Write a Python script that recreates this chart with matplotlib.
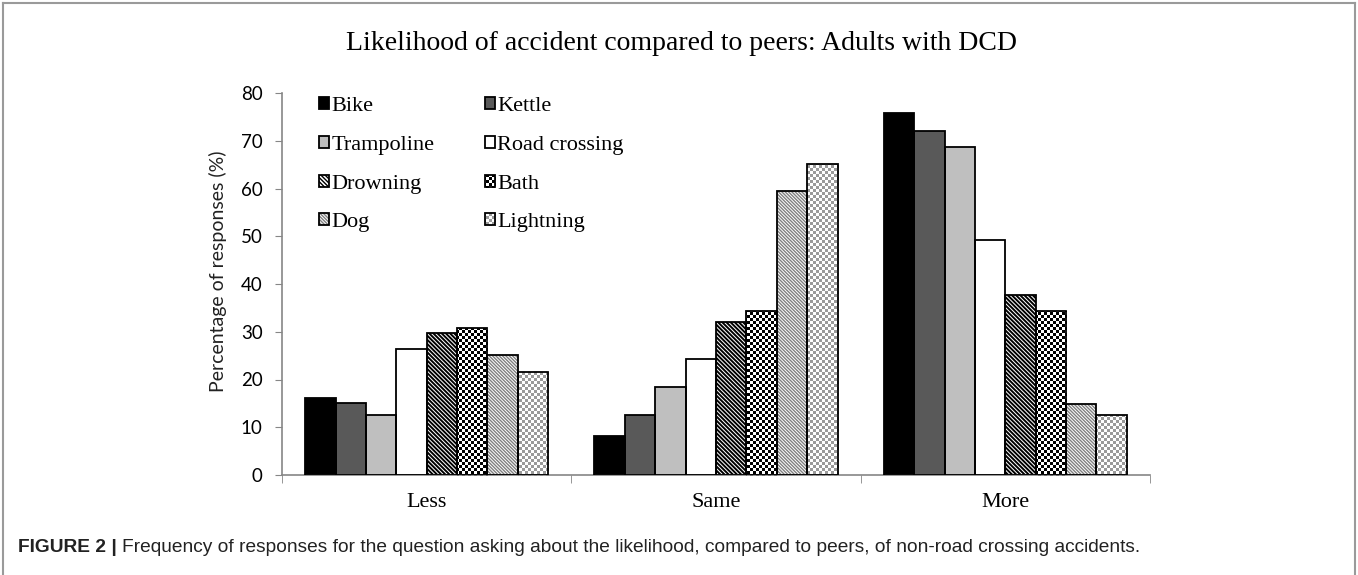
import numpy as np
import matplotlib
matplotlib.use("Agg")
import matplotlib.pyplot as plt
from matplotlib.lines import Line2D

categories = ["Less", "Same", "More"]
series = ["Bike", "Kettle", "Trampoline", "Road crossing", "Drowning", "Bath", "Dog", "Lightning"]
bike = [16.1, 8.2, 75.8]
kettle = [15.0, 12.6, 72.0]
trampoline = [12.5, 18.4, 68.6]
road_crossing = [26.3, 24.2, 49.2]
drowning = [29.7, 32.0, 37.6]
bath = [30.8, 34.3, 34.3]
dog = [25.2, 59.4, 14.8]
lightning = [21.6, 65.2, 12.5]
values = [bike, kettle, trampoline, road_crossing, drowning, bath, dog, lightning]

# fill colour, hatch, hatch colour, hatch width, checker colour (None = no checker)
styles = [
    ("#000000", "", "k", 1.0, None),
    ("#595959", "", "k", 1.0, None),
    ("#bfbfbf", "", "k", 1.0, None),
    ("#ffffff", "", "k", 1.0, None),
    ("#ffffff", "\\" * 8, "#000000", 1.4, None),
    ("none", "", "k", 1.0, "#000000"),
    ("#ffffff", "\\" * 10, "#808080", 1.0, None),
    ("none", "", "k", 1.0, "#9a9a9a"),
]

W, H = 1358, 575
fig = plt.figure(figsize=(W / 100, H / 100), dpi=100)
fig.patch.set_facecolor("white")
ax = fig.add_axes([282 / W, 1 - 475 / H, 868 / W, 382 / H])
ax.patch.set_visible(False)

serif = "Liberation Serif"
sans = "Lato"

x = np.arange(len(categories))
bw = 0.105
bars = []
fills = []
for i, (vals, (fc, hatch, hc, hw, chk)) in enumerate(zip(values, styles)):
    pos = x + (i - 3.5) * bw
    with plt.rc_context({"hatch.color": hc, "hatch.linewidth": hw}):
        f = ax.bar(pos, vals, bw, color=fc, hatch=hatch, edgecolor=None, linewidth=0, zorder=2)
    outl = ax.bar(pos, vals, bw, facecolor="none", edgecolor="black", linewidth=1.3, zorder=3)
    fills.append(f)
    bars.append(outl)

ax.set_xlim(-0.5, 2.5)
ax.set_ylim(0, 80)
ax.set_yticks(np.arange(0, 81, 10))
ax.set_xticks(x)
ax.set_xticklabels(categories, fontfamily=serif, fontsize=16)
ax.set_xticks([-0.5, 0.5, 1.5, 2.5], minor=True)
ax.tick_params(axis="x", which="major", length=0, pad=13)
ax.tick_params(axis="x", which="minor", length=6, color="#868686", direction="out")
ax.tick_params(axis="y", length=5, color="#868686", pad=9, labelsize=13.5)
for lab in ax.get_yticklabels():
    lab.set_fontfamily(sans)
for s in ["top", "right"]:
    ax.spines[s].set_visible(False)
for s in ["left", "bottom"]:
    ax.spines[s].set_color("#868686")
    ax.spines[s].set_linewidth(1.2)

ax.set_ylabel("Percentage of responses (%)", fontfamily=sans, fontsize=14, color="#222222")
ax.yaxis.set_label_coords(-0.0634, 0.534)

fig.text(681 / W, 1 - 43 / H, "Likelihood of accident compared to peers: Adults with DCD",
         fontfamily=serif, fontsize=20, ha="center", va="center")

# legend keys: fill (with hatch colour) + black outline
handles = [(fills[i].patches[0], bars[i].patches[0]) for i in range(len(series))]
order = [0, 2, 4, 6, 1, 3, 5, 7]
leg = fig.legend([handles[i] for i in order], [series[i] for i in order], ncol=2,
                 loc="upper left", bbox_to_anchor=(319 / W, 1 - 97 / H), frameon=False,
                 prop={"family": serif, "size": 16}, handlelength=0.45, handleheight=0.45,
                 handletextpad=0.1, columnspacing=2.27, labelspacing=0.89,
                 borderpad=0, borderaxespad=0)

# checker textures, clipped to the bars and legend keys
yy, xx = np.indices((H, W))
def checker(color, cell):
    rgb = np.array(matplotlib.colors.to_rgb(color))
    mask = ((yy // cell + xx // cell) % 2 == 0)[..., None]
    return np.where(mask, rgb, 1.0)

fig.canvas.draw()
leg_patches = leg.get_patches()
for i, (fc, hatch, hc, hw, chk) in enumerate(styles):
    if chk is None:
        continue
    tex = checker(chk, 3)
    for rect in bars[i]:
        im = fig.figimage(tex, xo=0, yo=0, origin="upper", zorder=-1)
        im.set_clip_path(rect)
    key = leg_patches[order.index(i)]
    im = fig.figimage(tex, xo=0, yo=0, origin="upper", zorder=-1)
    im.set_clip_path(key)

# figure frame and caption
for xs, ys in [([3, 3], [0, 572]), ([3, 1355], [572, 572]), ([1355, 1355], [572, 0])]:
    fig.add_artist(Line2D([v / W for v in xs], [v / H for v in ys], color="#9a9a9a", lw=1.5))

t1 = fig.text(18 / W, 1 - 548 / H, "FIGURE 2 | ", fontfamily="Liberation Sans",
              fontweight="bold", fontsize=13.8, va="center", color="#222222")
fig.canvas.draw()
bb = t1.get_window_extent()
fig.text(bb.x1 / W, 1 - 548 / H,
         "Frequency of responses for the question asking about the likelihood, compared to peers, of non-road crossing accidents.",
         fontfamily="Liberation Sans", fontsize=13.8, va="center", color="#222222")

plt.savefig("out.png", dpi=100)
